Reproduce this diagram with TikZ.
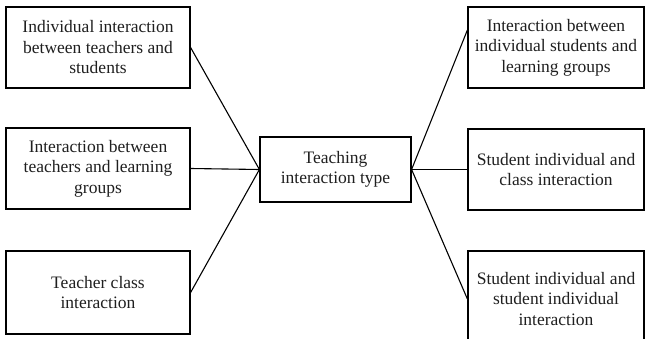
\documentclass[tikz,border=0pt]{standalone}
\usepackage{fontspec}
\setmainfont{Liberation Serif}
\begin{document}
\begin{tikzpicture}[
            x=1pt, y=-1pt,
            box/.style={rectangle, draw=black, line width=1.2pt, align=center, inner sep=1pt,
                        font=\fontsize{17.5}{20.5}\selectfont, text=black!88},
            side_box/.style={box, minimum width=184pt, minimum height=81pt},
            right_box/.style={box, minimum width=176pt, minimum height=81pt},
            link/.style={line width=1.1pt}
        ]

        % Frame of the picture
        \useasboundingbox (0,0) rectangle (645,339);

        % Central node
        \node[box, minimum width=151pt, minimum height=65pt] (type) at (335.5,169.5) {Teaching\\interaction type};

        % Teacher side
        \node[side_box] (l1) at (98,47.5) {Individual interaction\\between teachers and\\students};
        \node[side_box] (l2) at (98,168.5) {Interaction between\\teachers and learning\\groups};
        \node[side_box, minimum height=83pt] (l3) at (98,292.5) {Teacher class\\interaction};

        % Student side
        \node[right_box] (r1) at (556,47.5) {Interaction between\\individual students and\\learning groups};
        \node[right_box] (r2) at (556,169.5) {Student individual and\\class interaction};
        \node[right_box, minimum height=96pt] (r3) at (556,299) {Student individual and\\student individual\\interaction};

        % Links to the central node
        \draw[link] (l1.east) -- (type.west);
        \draw[link] (l2.east) -- (type.west);
        \draw[link] (l3.east) -- (type.west);

        \draw[link] (type.east) -- ([yshift=17.5pt]r1.west);
        \draw[link] (type.east) -- (r2.west);
        \draw[link] (type.east) -- (r3.west);

    \end{tikzpicture}
\end{document}
